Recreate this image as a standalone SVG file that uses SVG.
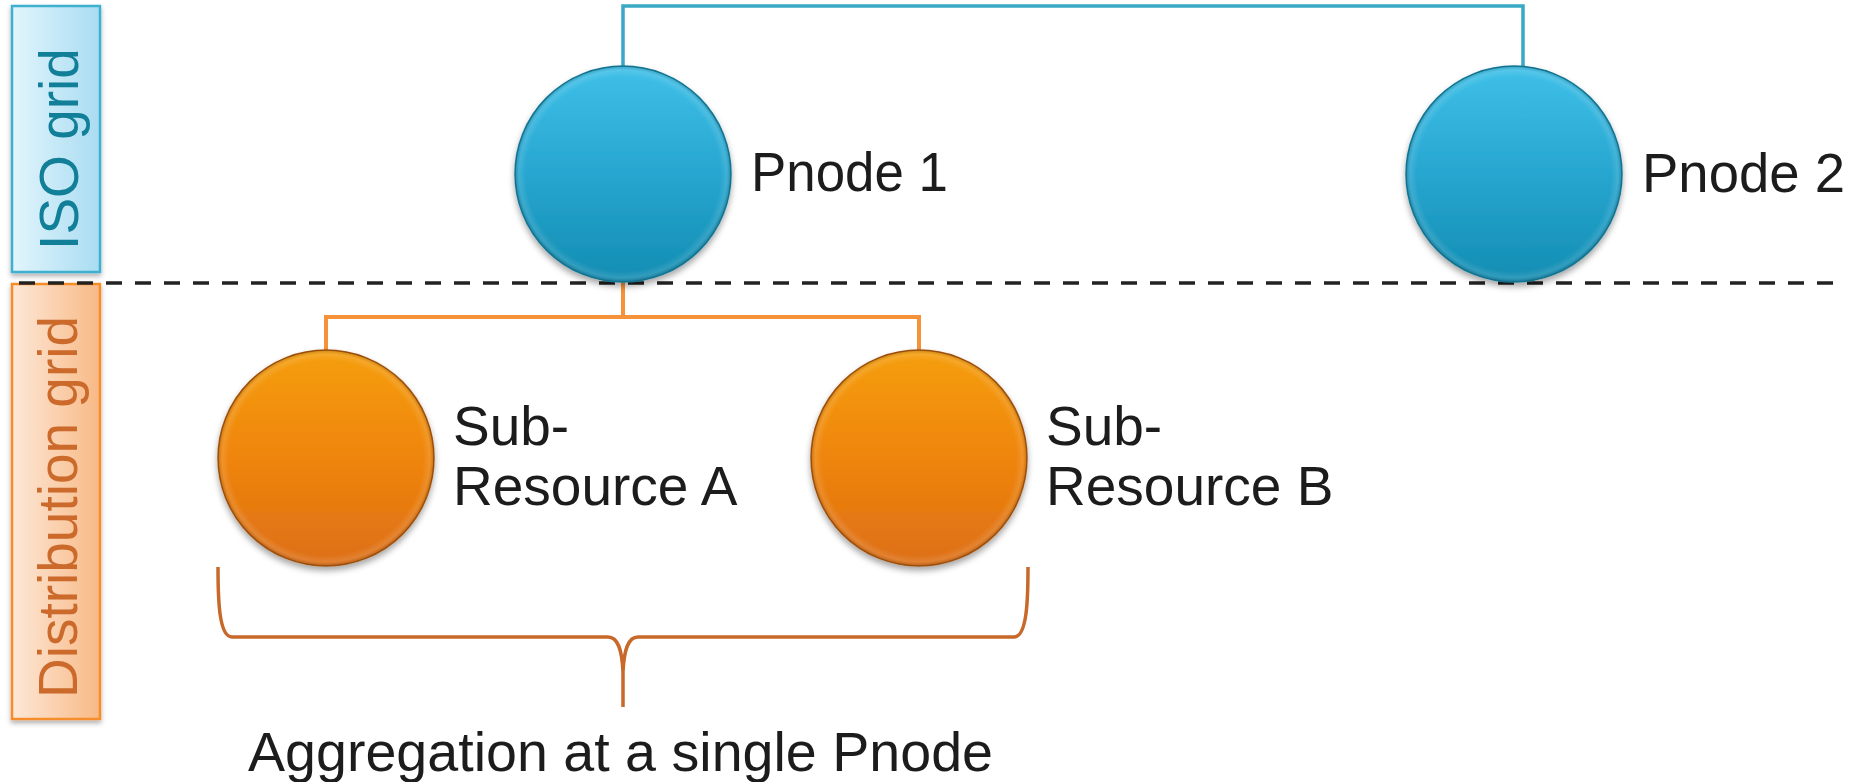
<svg xmlns="http://www.w3.org/2000/svg" width="1860" height="782" viewBox="0 0 1860 782">
<defs>
  <linearGradient id="isoFill" x1="0" y1="0" x2="1" y2="0">
    <stop offset="0" stop-color="#e2f5fc"/>
    <stop offset="1" stop-color="#a9dcf2"/>
  </linearGradient>
  <linearGradient id="distFill" x1="0" y1="0" x2="1" y2="0">
    <stop offset="0" stop-color="#fde8d8"/>
    <stop offset="1" stop-color="#f8b985"/>
  </linearGradient>
  <linearGradient id="blueFill" x1="0" y1="0" x2="0" y2="1">
    <stop offset="0" stop-color="#3fc0e8"/>
    <stop offset="0.5" stop-color="#27a6d0"/>
    <stop offset="1" stop-color="#138db2"/>
  </linearGradient>
  <linearGradient id="orangeFill" x1="0" y1="0" x2="0" y2="1">
    <stop offset="0" stop-color="#f59e0c"/>
    <stop offset="0.5" stop-color="#ef850b"/>
    <stop offset="1" stop-color="#dd6f18"/>
  </linearGradient>
  <radialGradient id="bevel" cx="0.5" cy="0.5" r="0.5">
    <stop offset="0.9" stop-color="#ffffff" stop-opacity="0"/>
    <stop offset="0.96" stop-color="#ffffff" stop-opacity="0.12"/>
    <stop offset="1" stop-color="#000000" stop-opacity="0.18"/>
  </radialGradient>
  <filter id="shadow" x="-20%" y="-20%" width="140%" height="150%">
    <feDropShadow dx="0" dy="4" stdDeviation="3" flood-color="#000" flood-opacity="0.35"/>
  </filter>
  <filter id="boxShadow" x="-20%" y="-10%" width="140%" height="120%">
    <feDropShadow dx="0" dy="3" stdDeviation="2.5" flood-color="#000" flood-opacity="0.3"/>
  </filter>
</defs>
<style>
  .lbl { font-family: "Liberation Sans", Arial, sans-serif; font-size: 55px; fill: #1c1c1c; }
  .side { font-family: "Liberation Sans", Arial, sans-serif; font-size: 55px; text-anchor: middle; }
  .blue { fill: url(#blueFill); stroke: #137d9c; stroke-width: 1.5; filter: url(#shadow); }
  .orange { fill: url(#orangeFill); stroke: #a9560f; stroke-width: 1.5; filter: url(#shadow); }
  .bevel { fill: url(#bevel); stroke: none; }
  .teal { fill: none; stroke: #3aa9c6; stroke-width: 3.5; }
  .org { fill: none; stroke: #f5923a; stroke-width: 4; }
</style>

<g id="iso-grid-band">
  <rect x="12" y="6" width="88" height="266" fill="url(#isoFill)" stroke="#3fb0cf" stroke-width="2.5" filter="url(#boxShadow)"/>
  <text class="side" fill="#127f99" transform="translate(78,149) rotate(-90)">ISO grid</text>
</g>
<g id="distribution-grid-band">
  <rect x="12" y="284" width="88" height="435" fill="url(#distFill)" stroke="#f58d2c" stroke-width="2.5" filter="url(#boxShadow)"/>
  <text class="side" fill="#cc6a2c" transform="translate(77,507) rotate(-90)">Distribution grid</text>
</g>

<g id="boundary">
  <line x1="19" y1="283" x2="1840" y2="283" stroke="#222" stroke-width="3.5" stroke-dasharray="16 13"/>
</g>

<g id="connectors">
  <polyline class="teal" points="623,66 623,6 1523,6 1523,66"/>
  <polyline class="org" points="623,282 623,317"/>
  <polyline class="org" points="326,350 326,317 919,317 919,350"/>
  <path id="brace" d="M218,567 C218,600 219,637 232,637 L608,637 C618,637 622,650 623,672 L623,707 M623,672 C624,650 628,637 638,637 L1014,637 C1027,637 1028,600 1028,567" fill="none" stroke="#c8682a" stroke-width="3.5"/>
</g>

<g id="pnode1">
  <circle class="blue" cx="623" cy="174" r="108"/>
  <circle class="bevel" cx="623" cy="174" r="108"/>
  <text class="lbl" x="751" y="191" textLength="197" lengthAdjust="spacingAndGlyphs">Pnode 1</text>
</g>
<g id="pnode2">
  <circle class="blue" cx="1514" cy="174" r="108"/>
  <circle class="bevel" cx="1514" cy="174" r="108"/>
  <text class="lbl" x="1642" y="192" textLength="203" lengthAdjust="spacingAndGlyphs">Pnode 2</text>
</g>
<g id="sub-resource-a">
  <circle class="orange" cx="326" cy="458" r="108"/>
  <circle class="bevel" cx="326" cy="458" r="108"/>
  <text class="lbl" x="453" y="445">Sub-</text>
  <text class="lbl" x="453" y="505">Resource A</text>
</g>
<g id="sub-resource-b">
  <circle class="orange" cx="919" cy="458" r="108"/>
  <circle class="bevel" cx="919" cy="458" r="108"/>
  <text class="lbl" x="1046" y="445">Sub-</text>
  <text class="lbl" x="1046" y="505">Resource B</text>
</g>
<g id="aggregation-label">
  <text class="lbl" x="248" y="771" font-size="57" textLength="745" lengthAdjust="spacingAndGlyphs">Aggregation at a single Pnode</text>
</g>
</svg>
